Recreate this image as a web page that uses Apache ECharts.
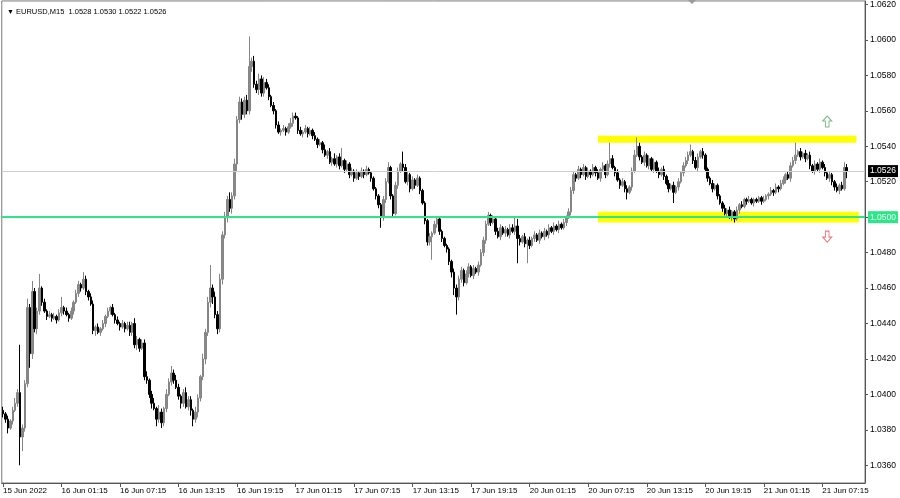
<!DOCTYPE html>
<html><head><meta charset="utf-8">
<script src="https://cdn.jsdelivr.net/npm/echarts@6/dist/echarts.min.js"></script>
<style>html,body{margin:0;padding:0;background:#fff}#c{width:900px;height:498px}</style>
</head><body><div id="c"></div>
<script>
// EURUSD M15 closes in pips: price = 1 + v/10000
const firstOpen = 391;
const closes = [
389,386,381,385,391,395,401,376,381,406,
449,423,458,437,447,460,452,447,444,445,
443,444,442,446,449,447,445,443,447,452,
457,462,460,465,458,455,451,436,438,435,
437,440,444,447,449,445,442,440,438,440,
437,439,435,440,428,431,426,429,410,408,
400,395,392,386,390,384,392,400,407,412,
408,404,399,395,401,393,397,391,386,390,
398,410,420,435,452,460,455,445,437,465,
490,500,510,505,512,530,555,565,558,566,
560,585,588,575,572,578,570,576,573,568,
563,560,552,548,549,550,548,551,553,557,
556,549,547,548,550,547,549,546,544,541,
542,538,535,537,531,533,530,534,529,532,
527,530,524,526,522,525,523,526,524,527,
525,522,516,512,507,500,510,520,528,512,
502,518,526,530,528,520,524,516,521,518,
522,515,508,498,486,489,491,496,499,492,
488,484,482,475,469,460,455,465,470,463,
468,472,467,471,469,473,480,487,496,501,
497,499,492,489,494,491,493,490,494,492,
495,488,486,489,485,487,484,488,490,487,
491,489,492,490,494,492,495,493,496,494,
497,500,503,515,524,522,527,524,528,523,
526,524,528,525,522,527,529,524,530,533,
528,525,521,518,520,516,514,517,526,535,
540,534,531,535,529,533,527,531,526,524,
527,523,519,516,518,514,517,520,525,529,
532,535,537,532,528,534,537,535,527,522,
519,516,518,512,508,505,502,504,500,503,
499,504,507,506,510,509,510,508,510,509,
511,509,510,512,513,515,514,517,516,519,
521,524,522,529,532,535,537,534,536,533,
535,529,526,530,527,531,528,525,522,524,
520,517,515,518,516,528,526];
// upper wick (pips above body) and lower wick (pips below body)
const wickUp = [
2,1,2,1,2,3,2,27,2,2, 5,2,6,2,2,8,1,2,1,2, 1,2,1,2,6,1,2,1,2,1, 2,2,1,4,2,1,2,2,1,2,
1,2,1,2,1,2,1,2,1,2, 1,2,2,1,3,2,1,2,2,3, 1,2,3,1,4,2,1,3,2,4, 2,3,2,1,2,3,2,2,1,3,
2,1,3,2,3,13,2,3,2,3, 2,3,2,4,2,3,2,3,2,2, 3,17,2,3,2,3,2,3,2,2, 1,2,1,2,1,2,1,2,3,2,
2,1,2,1,2,1,2,1,2,1, 2,1,3,1,2,1,3,1,2,7, 1,2,1,2,1,2,1,2,1,2, 1,1,1,1,1,1,2,2,3,1,
1,2,2,1,7,2,2,1,2,1, 2,1,1,1,1,2,1,2,1,1, 1,1,1,1,1,2,2,2,2,1, 2,2,1,2,1,2,2,2,2,2,
1,2,1,2,2,1,2,1,2,2, 5,4,2,1,2,1,2,1,2,1, 2,1,2,1,2,1,2,1,2,1, 2,1,2,2,2,1,2,1,2,1,
2,1,2,1,2,1,2,1,2,9, 2,1,2,1,2,1,2,1,2,3, 5,2,1,2,1,2,1,2,1,2, 1,2,1,2,1,2,1,2,1,2,
2,2,4,1,2,2,1,2,1,1, 1,2,1,1,1,1,2,1,2,1, 1,2,1,2,1,1,2,1,1,1, 1,1,2,1,1,2,1,2,1,2,
2,1,2,2,2,7,1,2,1,2, 1,2,1,2,1,2,1,2,1,2, 1,1,2,1,2,3,2];
const wickDown = [
2,2,3,1,2,1,2,16,8,2, 2,8,3,2,3,2,2,1,2,1, 2,1,2,1,2,2,1,2,1,2, 1,2,2,1,2,2,1,2,3,1,
2,1,2,1,2,1,2,1,2,1, 2,1,2,2,2,3,2,1,2,2, 2,3,1,4,2,3,2,2,1,2, 2,1,2,3,2,1,2,3,4,2,
3,2,2,3,2,3,4,2,3,2, 3,2,3,2,3,2,4,2,3,2, 2,2,3,2,2,3,2,2,1,2, 1,2,2,1,2,1,2,1,1,2,
1,2,1,2,1,2,1,2,1,2, 1,2,1,2,1,2,1,2,2,1, 2,1,2,1,2,1,2,1,2,1, 1,2,1,2,2,6,2,2,1,2,
2,1,2,1,2,1,2,2,1,2, 1,2,1,2,2,2,13,1,2,2, 2,1,2,2,3,4,10,2,2,2, 1,2,1,2,1,2,1,2,2,1,
2,1,2,1,2,1,2,1,2,1, 2,14,2,1,2,11,2,1,2,1, 2,1,2,1,2,1,2,1,2,1, 1,2,1,2,2,2,1,2,1,2,
1,2,1,2,1,2,1,2,1,2, 1,2,1,2,1,2,4,1,2,1, 1,2,1,2,1,2,1,2,1,2, 1,2,1,2,1,6,1,2,1,2,
1,2,1,2,1,2,1,2,1,2, 1,2,1,2,1,2,1,2,1,2, 2,1,2,1,1,2,1,1,2,1, 1,2,1,1,2,1,2,1,2,1,
1,2,1,2,1,2,1,2,1,2, 1,2,1,2,1,2,1,2,1,2, 2,2,1,2,1,1,4];
const tickLabels = ['15 Jun 2022','16 Jun 01:15','16 Jun 07:15','16 Jun 13:15','16 Jun 19:15','17 Jun 01:15','17 Jun 07:15','17 Jun 13:15','17 Jun 19:15','20 Jun 01:15','20 Jun 07:15','20 Jun 13:15','20 Jun 19:15','21 Jun 01:15','21 Jun 07:15'];
const tickEvery = 24;
const yTicks = [1.0360,1.0380,1.0400,1.0420,1.0440,1.0460,1.0480,1.0500,1.0520,1.0540,1.0560,1.0580,1.0600,1.0620];
const bidPrice = 1.0526;
const levelPrice = 1.0500;
const resistanceZone = [1.0542, 1.0546];
const supportZone = [1.0497, 1.0503];
const zoneStartIdx = 244, zoneEndIdx = 350, zone2EndIdx = 351;
const upArrow = [338, 1.0554];
const downArrow = [338, 1.0489];
const titleText = 'EURUSD,M15  1.0528 1.0530 1.0522 1.0526';
const totalSlots = 354;

// categories (15-min bars, weekend skipped)
const cats = [];
let t = Date.UTC(2022,5,15,19,15);
const fri = Date.UTC(2022,5,18,0,0), mon = Date.UTC(2022,5,20,0,0);
for (let i = 0; i < totalSlots; i++) {
  if (t >= fri && t < mon) t = mon;
  const d = new Date(t);
  cats.push(d.getUTCDate() + ' Jun ' + String(d.getUTCHours()).padStart(2,'0') + ':' + String(d.getUTCMinutes()).padStart(2,'0'));
  t += 15*60000;
}
const px = v => +(1 + v/10000).toFixed(4);
const candles = closes.map((c, i) => {
  const o = i === 0 ? firstOpen : closes[i-1];
  const hi = Math.max(o, c) + wickUp[i];
  const lo = Math.min(o, c) - wickDown[i];
  return [px(o), px(c), px(lo), px(hi)];
});

const FONT = 'Liberation Sans';
const chart = echarts.init(document.getElementById('c'), null, {renderer:'canvas'});
chart.setOption({
  animation: false,
  backgroundColor: '#ffffff',
  textStyle: {fontFamily: FONT},
  title: {
    text: '{t|▼} ' + titleText, left: 2, top: 3,
    textStyle: {fontSize: 7.5, fontWeight: 'normal', color: '#000', fontFamily: FONT,
      rich: {t: {fontSize: 7, color: '#000'}}}
  },
  graphic: [{
    type: 'polygon', left: 688, top: 0, silent: true,
    shape: {points: [[0, 0], [8, 0], [4, 4]]},
    style: {fill: '#9a9a9a'}
  }],
  grid: {left: 0, right: 35, top: 0, bottom: 15, show: true, borderColor: '#7a7a7a', borderWidth: 1},
  xAxis: {
    type: 'category', data: cats, boundaryGap: true,
    axisLine: {show: true, lineStyle: {color: '#555', width: 1}},
    axisTick: {show: true, alignWithLabel: true, length: 4, lineStyle: {color: '#555'},
      interval: (i) => i % tickEvery === 0},
    axisLabel: {
      interval: (i) => i % tickEvery === 0,
      align: 'left', margin: 4, fontSize: 8, color: '#000', fontFamily: FONT,
      formatter: (v, i) => tickLabels[i / tickEvery] || ''
    },
    splitLine: {show: false}
  },
  yAxis: {
    type: 'value', position: 'right', min: 1.0350, max: 1.0622, scale: true,
    axisLine: {show: true, lineStyle: {color: '#555', width: 1}},
    axisTick: {show: true, length: 3, lineStyle: {color: '#555'}, customValues: yTicks},
    axisLabel: {customValues: yTicks, fontSize: 8.5, color: '#000', margin: 5, fontFamily: FONT,
      formatter: v => v.toFixed(4)},
    splitLine: {show: false}
  },
  series: [
    {
      type: 'line', data: [], z: 1, silent: true,
      markArea: {
        silent: true,
        itemStyle: {color: '#ffff00', opacity: 1},
        data: [
          [{xAxis: zoneStartIdx, yAxis: resistanceZone[1]}, {xAxis: zoneEndIdx, yAxis: resistanceZone[0]}],
          [{xAxis: zoneStartIdx, yAxis: supportZone[1]}, {xAxis: zone2EndIdx, yAxis: supportZone[0]}]
        ]
      }
    },
    {
      type: 'candlestick', data: candles, z: 3, barWidth: 2,
      itemStyle: {color: '#8a8a8a', color0: '#000000', borderColor: '#858585', borderColor0: '#000000', borderWidth: 1},
      markLine: {
        silent: true, symbol: ['none', 'none'], animation: false, precision: 4,
        data: [
          {name: 'bid', yAxis: bidPrice,
            lineStyle: {color: '#cfcfcf', width: 1, type: 'solid'},
            label: {show: true, position: 'end', distance: 3, formatter: '1.0526',
              backgroundColor: '#000000', color: '#ffffff', fontSize: 8.5, padding: [2, 2, 1, 2], fontFamily: FONT}},
          {name: 'level', yAxis: levelPrice,
            lineStyle: {color: '#2ee68a', width: 2, type: 'solid'},
            label: {show: true, position: 'end', distance: 3, formatter: '1.0500',
              backgroundColor: '#2ee68a', color: '#e8fff0', fontSize: 8.5, padding: [2, 2, 1, 2], fontFamily: FONT}}
        ]
      }
    },
    {
      type: 'scatter', z: 5, silent: true,
      data: [upArrow],
      symbol: 'path://M5 0 L10 5 L7 5 L7 11 L3 11 L3 5 L0 5 Z', symbolSize: [9, 11],
      itemStyle: {color: 'rgba(0,0,0,0)', borderColor: '#5aa86a', borderWidth: 1}
    },
    {
      type: 'scatter', z: 5, silent: true,
      data: [downArrow],
      symbol: 'path://M3 0 L7 0 L7 6 L10 6 L5 11 L0 6 L3 6 Z', symbolSize: [9, 11],
      itemStyle: {color: 'rgba(0,0,0,0)', borderColor: '#e05a5a', borderWidth: 1}
    }
  ]
});
</script></body></html>
